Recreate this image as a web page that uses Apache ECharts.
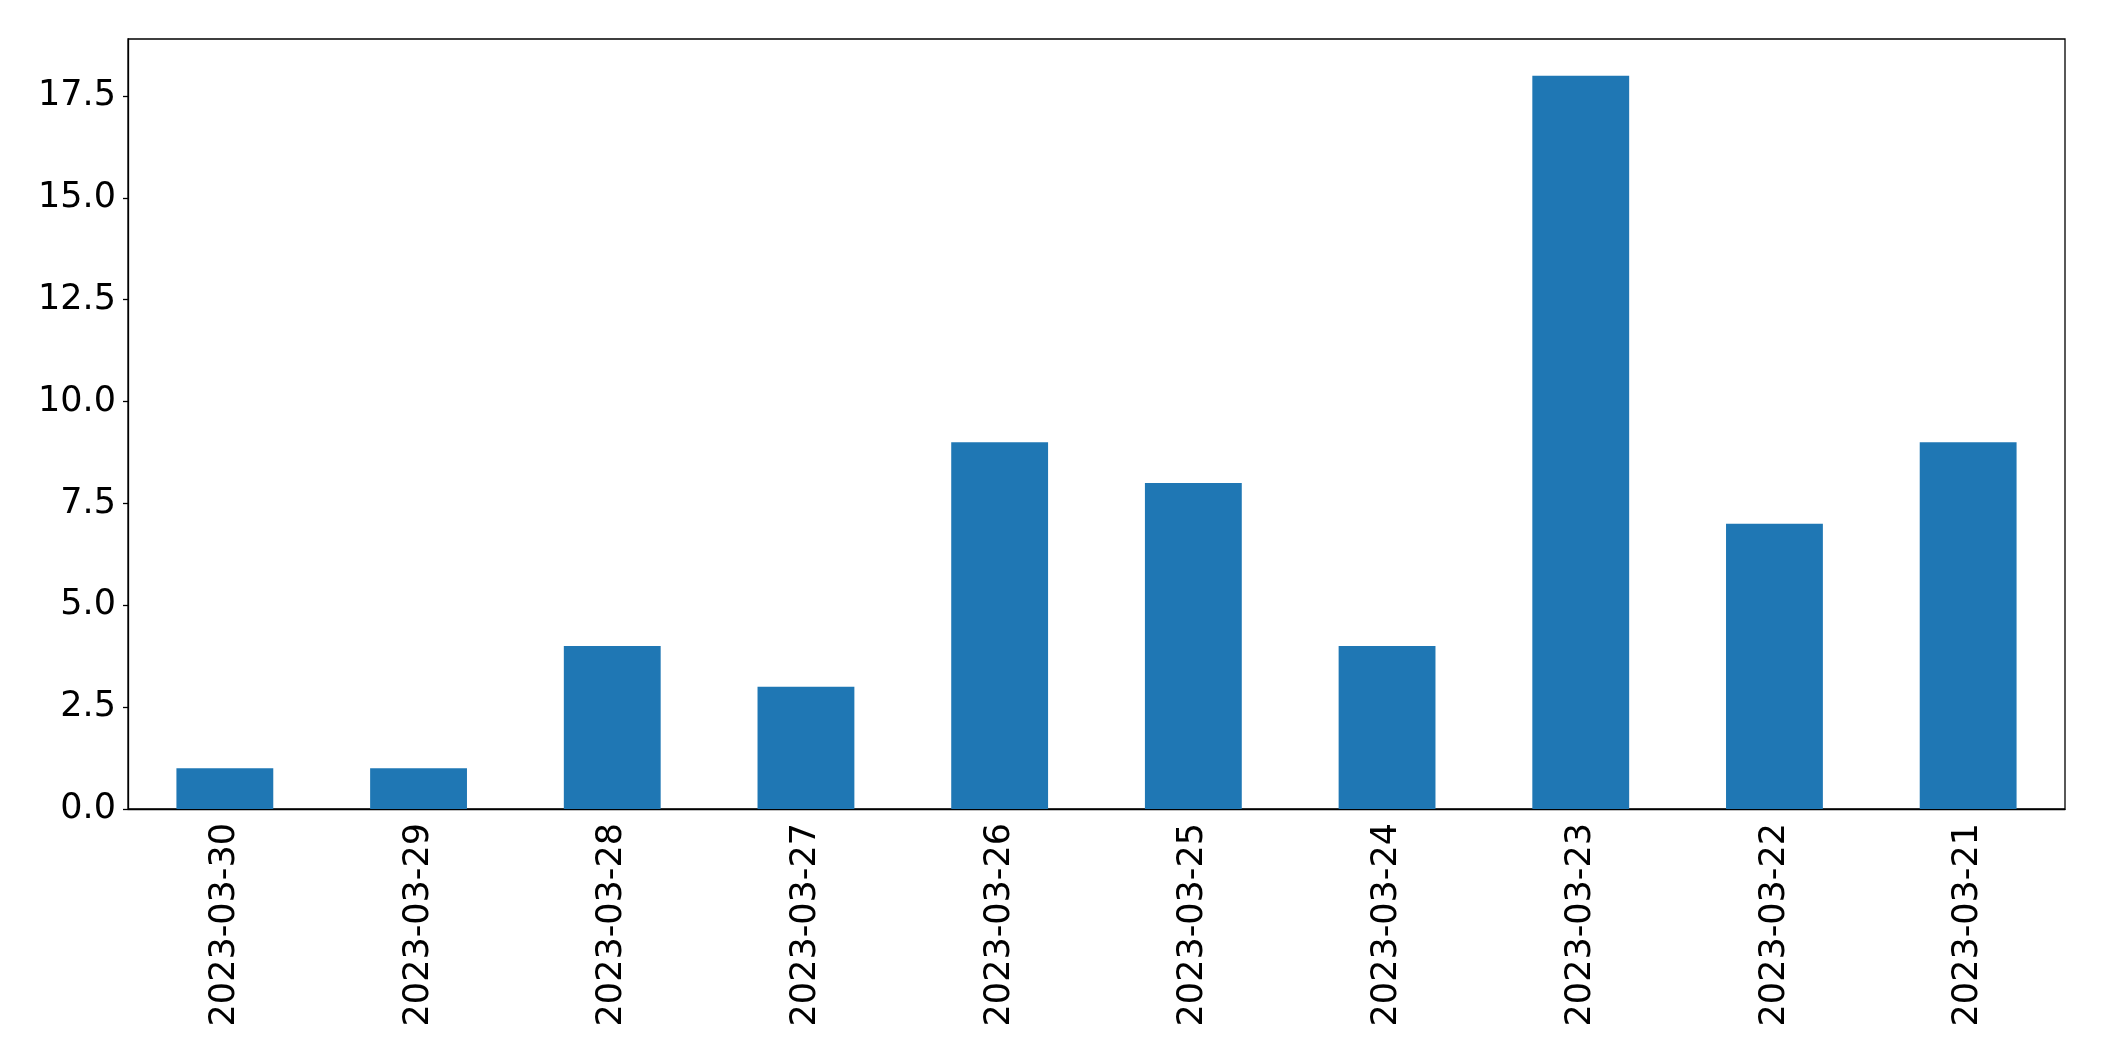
<!DOCTYPE html>
<html>
<head>
<meta charset="utf-8">
<script src="https://cdn.jsdelivr.net/npm/echarts@6/dist/echarts.min.js"></script>
<style>
  html, body { margin: 0; padding: 0; background: #fff; }
  #chart { width: 2104px; height: 1061px; }
</style>
</head>
<body>
<div id="chart"></div>
<script>
const dates = ['2023-03-30', '2023-03-29', '2023-03-28', '2023-03-27', '2023-03-26',
               '2023-03-25', '2023-03-24', '2023-03-23', '2023-03-22', '2023-03-21'];
const counts = [1, 1, 4, 3, 9, 8, 4, 18, 7, 9];

const chart = echarts.init(document.getElementById('chart'));
const font = 'DejaVu Sans';

chart.setOption({
    animation: false,
    grid: {
        left: 128, right: 39, top: 39, bottom: 252,
        show: true, borderColor: '#000', borderWidth: 1.3,
        containLabel: false
    },
    xAxis: {
        type: 'category',
        data: dates,
        boundaryGap: true,
        axisLine: { lineStyle: { color: '#000', width: 1.3 } },
        axisTick: { alignWithLabel: true, length: 5, lineStyle: { color: '#000', width: 1.3 } },
        axisLabel: { rotate: 90, color: '#000', fontSize: 35, fontFamily: font, margin: 14 },
        splitLine: { show: false }
    },
    yAxis: {
        type: 'value',
        min: 0,
        max: 18.9,
        interval: 2.5,
        axisLine: { show: true, lineStyle: { color: '#000', width: 1.3 } },
        axisTick: { show: true, length: 5, lineStyle: { color: '#000', width: 1.3 } },
        axisLabel: {
            color: '#000', fontSize: 35, fontFamily: font, margin: 12,
            showMaxLabel: false,
            formatter: v => v.toFixed(1)
        },
        splitLine: { show: false }
    },
    series: [{
        type: 'bar',
        data: counts,
        barWidth: '50%',
        itemStyle: { color: '#1f77b4' }
    }]
});
</script>
</body>
</html>
